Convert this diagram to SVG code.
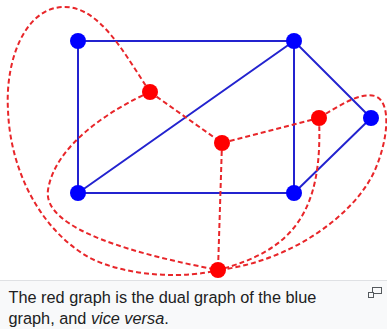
<svg xmlns="http://www.w3.org/2000/svg" width="387" height="329" viewBox="0 0 387 329">
<style>
.blue{stroke:#2323cf;stroke-width:2;fill:none}
.red{stroke:#e8262a;stroke-width:2;fill:none;stroke-dasharray:5,3}
.bn{fill:#0000ff}
.rn{fill:#ff0000}
.cap{font-family:"Liberation Sans",Arial,sans-serif;font-size:16.3px;fill:#202122}
</style>
<rect x="0" y="0" width="387" height="329" fill="#ffffff"/>
<rect x="0" y="280" width="387" height="49" fill="#f8f9fa"/>
<line x1="0" y1="280.5" x2="387" y2="280.5" stroke="#dfe1e4" stroke-width="1"/>
<g id="blue-edges">
<path class="blue" d="M78,41 L294,41 L294,193 L78,193 Z M78,193 L294,41 L371,118 L294,193"/>
</g>
<g id="connectors">
<path class="red" d="M150,92 L222,143"/>
<path class="red" d="M222,143 L319,118"/>
<path class="red" d="M222,143 L218,270"/>
<path class="red" d="M150,92 C125,55 100,5 62,7 C25,9 5,60 8,110 C10,170 40,230 90,258 C130,278 190,278 218,270"/>
<path class="red" d="M150,92 C110,110 55,145 48,190 C42,230 140,255 218,270"/>
<path class="red" d="M319,118 C323,210 295,250 218,270"/>
<path class="red" d="M319,118 C340,105 360,92 375,96 C392,102 388,140 375,170 C355,215 290,262 218,270"/>
</g>
<g id="nA"><circle class="bn" cx="78" cy="41" r="8"/></g>
<g id="nB"><circle class="bn" cx="294" cy="41" r="8"/></g>
<g id="nC"><circle class="bn" cx="371" cy="118" r="8"/></g>
<g id="nD"><circle class="bn" cx="78" cy="193" r="8"/></g>
<g id="nE"><circle class="bn" cx="294" cy="193" r="8"/></g>
<g id="nP"><circle class="rn" cx="150" cy="92" r="8"/></g>
<g id="nQ"><circle class="rn" cx="222" cy="143" r="8"/></g>
<g id="nR"><circle class="rn" cx="319" cy="118" r="8"/></g>
<g id="nS"><circle class="rn" cx="218" cy="270" r="8"/></g>
<g id="caption">
<text class="cap" x="8.5" y="303">The red graph is the dual graph of the blue</text>
<text class="cap" x="8.5" y="324">graph, and <tspan font-style="italic">vice versa</tspan>.</text>
<g fill="none" stroke="#54595d" stroke-width="1">
<rect x="372.5" y="287.5" width="9" height="6"/>
<rect x="368.5" y="292.5" width="5" height="5" fill="#f8f9fa"/>
</g>
</g>
</svg>
